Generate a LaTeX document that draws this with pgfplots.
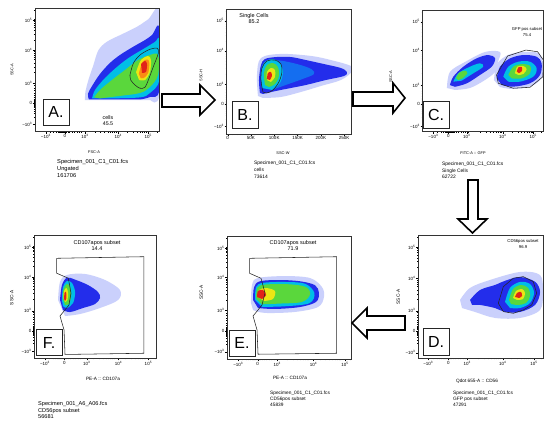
\documentclass[border=0pt]{standalone}
\usepackage{fontspec}
\setmainfont{Liberation Sans}
\usepackage{pgfplots}
\pgfplotsset{compat=1.18}
\newcommand{\fs}[1]{\fontsize{#1}{#1}\selectfont}
\definecolor{fhalo}{RGB}{202,208,252}
\definecolor{fblue}{RGB}{35,45,235}
\definecolor{fmid}{RGB}{20,110,240}
\definecolor{fcyan}{RGB}{0,190,230}
\definecolor{fgreen}{RGB}{90,215,60}
\definecolor{fyellow}{RGB}{235,230,20}
\definecolor{forange}{RGB}{250,140,20}
\definecolor{fred}{RGB}{225,35,25}
\newcommand{\blob}[2]{\addplot[fill=#1,draw=none,smooth,tension=0.55,forget plot] coordinates {#2};}
\newcommand{\gate}[2]{\addplot[draw=black!85,line width=0.55pt,#1,forget plot] coordinates {#2};}
\pgfplotsset{
 fc/.style={scale only axis, anchor=south west, xmin=0,xmax=100,ymin=0,ymax=100, clip=true, axis on top,
   axis line style={black!80,line width=0.45pt}, tick align=outside, tick pos=left,
   major tick length=2pt, minor tick length=1.1pt, tick style={black,line width=0.3pt},
   ticklabel style={font=\fs{4.5},inner sep=0.6pt},
   label style={font=\fs{3.9}}},
 lgx/.style={xtick={#1}, xticklabels={−10\textsuperscript{3},0,10\textsuperscript{3},10\textsuperscript{4},10\textsuperscript{5}},
   minor xtick={12,15,17,18.6,19.8,20.6,21.2,21.7,22.1,22.5,23.5,24,24.6,25.4,26.4,27.8,29.5,31.5,33.6,35.6,37.4,48,52.6,55.9,58.5,60.6,62.3,63.9,65.3,74.5,78.9,82,84.5,86.5,88.1,89.6,90.9,98.5}},
 lgy/.style={ytick={#1}, yticklabels={−10\textsuperscript{3},0,10\textsuperscript{3},10\textsuperscript{4},10\textsuperscript{5}},
   minor ytick={12,15,17,18.6,19.8,20.6,21.2,21.7,22.1,22.5,23.5,24,24.6,25.4,26.4,27.8,29.5,31.5,33.6,35.6,37.4,48,52.6,55.9,58.5,60.6,62.3,63.9,65.3,74.5,78.9,82,84.5,86.5,88.1,89.6,90.9,98.5}},
 xlab/.style 2 args={every axis x label/.append style={at={(axis description cs:#1,#2)},anchor=center}},
 ylab/.style 2 args={every axis y label/.append style={at={(axis description cs:#1,#2)},anchor=center}},
}
\begin{document}
\begin{tikzpicture}[x=1pt,y=1pt]
\fill[white] (0,0) rectangle (550,423);
\path[use as bounding box] (0,0) rectangle (550,423);

% ---------------- A ----------------
\begin{axis}[fc, at={(35pt,291.3pt)}, width=124.3pt, height=123.4pt,
  lgx={8.8,24.1,40.2,67.0,91.1}, lgy={6.2,23.0,39.2,66.2,90.5},
  xlabel={FSC-A}, ylabel={SSC-A}, xlab={0.475}{-0.162}, ylab={-0.185}{0.5}]
\blob{fhalo}{(40.2,25.5)(40.5,32)(43,42)(47,54)(51,66)(58,73)(70,79)(82,85)(91,91)(100,97)(100,30)(93,25.5)}
\blob{fblue}{(43.4,26.1)(42.6,30.6)(45.9,37.0)(52.3,46.8)(60.3,55.7)(68.4,62.2)(78.8,68.7)(88.5,74.3)(94.1,78.3)(100,84.0)(100,33.8)(92.5,28.1)(84.5,26.1)}
\blob{fcyan}{(45.9,27.0)(48.3,33.8)(56.3,43.5)(66.8,53.2)(76.4,60.5)(88.5,67.8)(96.5,72.7)(100,74.3)(100,41.9)(92.5,31.4)(84.5,27.8)(60.3,27.0)}
\blob{fgreen}{(47.5,27.8)(52.3,33.8)(61.9,41.9)(72.4,50)(82.9,58.1)(92.5,62.2)(99,62.2)(99,46)(92.5,36.2)(84.5,31.4)(68.4,29)(52.3,27.0)}
\blob{fyellow}{(81.3,48.3)(85.3,58.1)(91,61.3)(93.3,58.1)(92.5,48.3)(88.5,41.9)(83.7,41.9)}
\blob{forange}{(83.5,47)(86.5,56.5)(90.5,58.5)(92,55.5)(91,47.5)(87.5,43.5)(85,43.5)}
\blob{fred}{(85.3,54.9)(88.5,57.3)(90.1,54.9)(89.3,48.4)(86.1,47.6)}
\gate{smooth,tension=0.5}{(76.4,45.9)(79.1,55.4)(84.5,62.2)(92.5,66.8)(98.4,67.6)(99.2,63.5)(95.2,52.7)(91.2,41.9)(88.5,36.0)(84.5,35.2)(80.5,37.8)(77.0,41.9)(76.4,45.9)}
\end{axis}

% ---------------- B ----------------
\begin{axis}[fc, at={(226.7pt,289pt)}, width=125pt, height=124.7pt,
  xmin=-2100, xmax=266300, scaled x ticks=false,
  xtick={0,50000,100000,150000,200000,250000}, xticklabels={0,50K,100K,150K,200K,250K}, minor x tick num=4,
  lgy={6.4,24.0,40,66.7,90.8},
  xlabel={SSC-W}, ylabel={SSC-H}, xlab={0.45}{-0.152}, ylab={-0.205}{0.47}]
\blob{fhalo}{(65000,30.5)(62900,47.3)(71500,60.9)(114400,64.2)(178800,62.6)(221700,59.3)(264600,54.5)(266000,49.7)(243100,43.3)(200200,38.5)(157300,33.7)(114400,29.7)(75800,28.9)}
\blob{fblue}{(69300,32.9)(67200,43.3)(71500,55.3)(80000,60.1)(103700,61.7)(135800,61.7)(168000,59.3)(206700,56.1)(243100,52.9)(256000,49.7)(249600,46.5)(211000,43.3)(168000,39.3)(135800,36.9)(103700,34.5)(75800,32.1)}
\blob{fmid}{(75000,37)(72000,50)(80000,58)(110000,59)(150000,56)(180000,52)(185000,48)(160000,44)(130000,40)(100000,36)}
\blob{fcyan}{(73600,36.9)(71500,49.7)(80000,57.7)(97200,60.1)(112200,56.9)(118600,49.7)(112200,40.9)(95000,35.3)}
\blob{fgreen}{(80000,39.3)(77900,48.9)(84300,55.3)(97200,56.9)(107900,53.7)(110000,46.5)(101500,40.1)(88600,37.7)}
\blob{fyellow}{(84300,43.3)(84300,49.7)(92900,52.9)(101500,51.3)(101500,45.7)(92900,41.7)}
\blob{fred}{(84300,44.1)(86400,48.9)(92900,49.7)(95000,46.5)(90700,43.3)}
\gate{smooth,tension=0.55}{(75800,33.7)(71500,43.3)(73600,52.9)(84300,58.5)(101500,59.3)(114400,56.1)(116500,49.7)(110000,41.7)(97200,35.3)(84300,32.9)(75800,33.7)}
\end{axis}

% ---------------- C ----------------
\begin{axis}[fc, at={(422.7pt,291.3pt)}, width=120.6pt, height=121.7pt,
  lgx={8.8,21.3,36.5,66.3,91.7}, lgy={4.7,22.5,38.4,66.6,90.4},
  xlabel={FITC-A :: GFP}, ylabel={SSC-A}, xlab={0.417}{-0.175}, ylab={-0.265}{0.45}]
\blob{fhalo}{(20.1,35.9)(22.6,49.1)(35.1,57.3)(51.7,65.5)(64.1,65.5)(62.4,57.3)(60.0,49.1)(51.7,42.5)(39.2,35.9)(26.8,34.3)}
\blob{fhalo}{(59.1,42.5)(61.6,55.6)(70.7,63.0)(83.2,65.5)(95.7,64.7)(99.7,57.3)(99.7,45.8)(90.6,37.6)(74.9,35.1)(64.1,36.7)}
\blob{fblue}{(22.6,38.3)(25.4,45.2)(33.7,53.4)(44.8,60.3)(54.4,63.0)(60.0,60.3)(57.2,53.4)(47.5,46.6)(36.5,39.7)(26.8,36.9)}
\blob{fcyan}{(25.4,41.1)(29.5,48.0)(39.2,53.4)(47.5,56.2)(50.2,53.4)(42.0,48.0)(32.3,41.9)}
\blob{fgreen}{(27.6,43.9)(30.3,48.5)(35.1,50.1)(37.0,48.0)(33.2,43.9)(29.5,42.5)}
\blob{fblue}{(61.4,43.9)(64.1,53.4)(72.4,60.2)(83.4,63.0)(94.5,61.6)(98.6,56.2)(97.3,46.6)(89.0,39.8)(75.1,37.0)(65.5,38.4)}
\blob{fcyan}{(66.8,45.2)(71.0,53.4)(79.3,57.5)(89.0,57.5)(94.5,52.1)(91.7,45.2)(80.7,41.1)(71.0,41.1)}
\blob{fgreen}{(71.0,46.6)(75.1,53.4)(82.1,55.6)(89.0,54.0)(89.0,48.0)(82.1,43.8)(73.8,43.8)}
\blob{fyellow}{(76.5,48.0)(78.4,53.4)(83.4,54.0)(86.2,51.3)(83.4,47.4)(79.3,46.6)}
\blob{fred}{(78.0,49.3)(79.3,52.8)(82.1,53.1)(82.3,49.8)(79.8,48.2)}
\gate{}{(61.2,46.6)(70.4,62.2)(85.6,67.1)(95.3,65.7)(100,58.9)(99.7,45.2)(89.0,36.5)(75.1,35.7)(62.7,39.8)(61.2,46.6)}
\end{axis}

% ---------------- D ----------------
\begin{axis}[fc, at={(418.3pt,64.7pt)}, width=125pt, height=122.6pt,
  lgx={8,24,39.2,67.5,92.5}, lgy={4.6,22.3,38.8,65.2,90.5},
  label style={font=\fs{4.7}},
  xlabel={Qdot 655-A :: CD56}, ylabel={SSC-A}, xlab={0.47}{-0.185}, ylab={-0.16}{0.5}]
\blob{fhalo}{(33.4,47.6)(41.4,57.4)(57.4,63.9)(81.4,70.4)(97.4,67.9)(99.6,54.1)(97.4,39.4)(81.4,32.9)(61.4,32.9)(45.4,37.8)(35,41)}
\blob{fblue}{(41.4,47.6)(49.4,55.7)(61.4,59.8)(69.4,63.2)(81.4,66.3)(93.4,62.4)(97.4,54.1)(93.4,43.5)(81.4,37.8)(69.4,37.8)(61.4,41.0)(49.4,43.5)(43.0,43.5)}
\blob{fcyan}{(69.4,46.0)(73.4,57.4)(81.4,62.3)(89.4,60.6)(92.6,53.3)(89.4,45.1)(81.4,41.0)(73.4,41.0)}
\blob{fgreen}{(72.6,47.6)(75.8,56.5)(82.2,59.8)(87.8,57.4)(89.4,50.8)(86.2,45.1)(79.8,43.5)(74.2,44.3)}
\blob{fyellow}{(75.8,49.2)(78.2,54.9)(83,56.5)(85.4,53.3)(83.8,48.4)(79,47.6)}
\blob{fred}{(77.4,50.0)(79,53.3)(82.2,54.1)(83,50.8)(80.6,49.2)}
\gate{}{(64,44.9)(68,58.4)(76,65.3)(84,66.6)(92,62.5)(94.7,53)(90.7,43.5)(84,39.4)(76,36.7)(68,38.1)(64,44.9)}
\end{axis}

% ---------------- E ----------------
\begin{axis}[fc, at={(227.3pt,63.7pt)}, width=124.4pt, height=123.3pt,
  lgx={8.8,24.4,40.2,69.2,94.6}, lgy={6.2,23.2,39.5,66.5,90},
  label style={font=\fs{4.7}},
  xlabel={PE-A :: CD107a}, ylabel={SSC-A}, xlab={0.504}{-0.152}, ylab={-0.21}{0.54}]
\blob{fhalo}{(19.0,45.7)(19.9,60.3)(24.7,65.9)(46.4,67.5)(66.5,65.9)(76.1,58.6)(77.7,50.5)(72.9,42.4)(54.4,38.4)(30.3,37.6)(20.7,40.0)}
\blob{fblue}{(20.7,48.1)(21.5,58.4)(26.3,63.3)(42.4,64.3)(58.4,63.3)(70.5,60.1)(73.7,53.8)(71.3,46.5)(58.4,42.4)(38.3,40.8)(24.7,41.6)}
\blob{fcyan}{(22.3,48.1)(23.1,58.6)(28.7,62.0)(46.4,62.7)(62.5,61.3)(70.0,53.8)(66.0,45.5)(46.4,43.0)(27.9,42.5)}
\blob{fgreen}{(23.3,49.0)(24.0,57.8)(30.3,60.6)(50.4,60.8)(63.5,58.5)(66.5,52.5)(60.0,46.5)(42.4,45.2)(27.9,44.6)}
\blob{fyellow}{(24.7,50.5)(25.5,56.2)(31.2,57.8)(38.3,55.4)(36.7,48.9)(29.5,47.3)}
\blob{fred}{(23.9,50.5)(24.7,55.4)(28.7,56.2)(31.2,52.2)(27.9,48.9)}
\gate{}{(18.0,81.9)(87.9,83.2)(87.9,4.9)(24.7,4.1)(23.9,23.8)(20.7,35.1)(27.9,44.0)(30.3,53.8)(27.1,65.7)(18.0,69.7)(18.0,81.9)}
\end{axis}

% ---------------- F ----------------
\begin{axis}[fc, at={(34.3pt,64.7pt)}, width=122.4pt, height=123.3pt,
  lgx={8.7,24.5,42.8,68.7,93.2}, lgy={5.4,22.4,38.6,65.7,90},
  label style={font=\fs{4.7}},
  xlabel={PE-A :: CD107a}, ylabel={SSC-A}, xlab={0.561}{-0.168}, ylab={-0.185}{0.49}]
\blob{fhalo}{(19.4,47.3)(21.0,61.9)(26.7,67.6)(41.4,68.4)(57.8,63.5)(70.0,55.4)(68.5,47.3)(53.7,40.8)(37.3,35.9)(25.1,34.3)}
\blob{fblue}{(21.0,47.3)(22.6,59.4)(26.7,65.4)(33.3,63.8)(43.9,59.4)(52.0,53.8)(53.7,48.9)(49.6,44.0)(39.8,40.8)(29.2,37.5)(23.4,39.2)}
\blob{fcyan}{(22.6,47.3)(23.4,57.8)(26.7,62.7)(30.8,61.1)(33.3,53.8)(31.7,44.9)(26.7,40.8)(23.4,42.4)}
\blob{fgreen}{(23.4,48.1)(23.9,56.2)(26.7,60.3)(29.2,57.8)(30.0,50.5)(28.3,44.0)(25.1,43.2)}
\blob{fyellow}{(23.9,48.9)(24.3,54.6)(26.3,57.0)(27.6,53.0)(27.1,47.3)(25.1,45.7)}
\blob{fred}{(24.3,48.1)(24.7,53.0)(25.9,53.8)(26.3,48.9)(25.1,46.5)}
\gate{}{(18.3,81.1)(89.6,82.4)(89.6,4.1)(25.1,3.1)(24.3,23.0)(21.0,34.3)(28.3,43.2)(30.0,52.9)(27.8,64.9)(18.3,69.0)(18.3,81.1)}
\end{axis}

% ---------------- letter boxes ----------------
\tikzset{lbox/.style={draw=black!85, line width=0.6pt, fill=white, minimum width=26pt, minimum height=26.5pt, inner sep=0pt, font=\fs{16}}}
\node[lbox] at (56,310.5) {A.};
\node[lbox] at (245,308) {B.};
\node[lbox] at (436,308) {C.};
\node[lbox] at (436,81) {D.};
\node[lbox] at (242,79.5) {E.};
\node[lbox] at (49,80.5) {F.};

% ---------------- arrows ----------------
\tikzset{barrow/.style={draw=black, line width=1.6pt, fill=white, line join=miter}}
\draw[barrow] (162,329) -- (200,329) -- (200,338) -- (215,323) -- (200,308) -- (200,316) -- (162,316) -- cycle;
\draw[barrow] (353,331) -- (393,331) -- (393,340) -- (405,325) -- (393,310) -- (393,317) -- (353,317) -- cycle;
\draw[barrow] (468,243) -- (478,243) -- (478,204) -- (487,204) -- (472.5,190) -- (458,204) -- (468,204) -- cycle;
\draw[barrow] (405,107) -- (367,107) -- (367,115) -- (352,100) -- (367,85) -- (367,93) -- (405,93) -- cycle;

% ---------------- gate labels ----------------
\node[font=\fs{5.3},inner sep=0] at (108,305) {cells};
\node[font=\fs{5.3},inner sep=0] at (108,299) {45.5};
\node[font=\fs{5.5},inner sep=0] at (254,407) {Single Cells};
\node[font=\fs{5.5},inner sep=0] at (254,401) {85.2};
\node[font=\fs{4.2},inner sep=0] at (527,394) {GFP pos subset};
\node[font=\fs{4.2},inner sep=0] at (527,388) {75.4};
\node[font=\fs{4.2},inner sep=0] at (523,182) {CD56pos subset};
\node[font=\fs{4.2},inner sep=0] at (523,176) {96.9};
\node[font=\fs{5.5},inner sep=0] at (293,180) {CD107apos subset};
\node[font=\fs{5.5},inner sep=0] at (293,174) {71.9};
\node[font=\fs{5.5},inner sep=0] at (97,180) {CD107apos subset};
\node[font=\fs{5.5},inner sep=0] at (97,174) {14.4};

% ---------------- sample info ----------------
\tikzset{info/.style={anchor=base west, inner sep=0}}
\node[info,font=\fs{5.7}] at (57,259) {Specimen\_001\_C1\_C01.fcs};
\node[info,font=\fs{5.7}] at (57,252) {Ungated};
\node[info,font=\fs{5.7}] at (57,245) {161706};
\node[info,font=\fs{4.9}] at (254,258.5) {Specimen\_001\_C1\_C01.fcs};
\node[info,font=\fs{4.9}] at (254,251.5) {cells};
\node[info,font=\fs{4.9}] at (254,244.5) {73614};
\node[info,font=\fs{4.9}] at (442,257) {Specimen\_001\_C1\_C01.fcs};
\node[info,font=\fs{4.9}] at (442,250) {Single Cells};
\node[info,font=\fs{4.9}] at (442,244) {62722};
\node[info,font=\fs{4.8}] at (453,28.5) {Specimen\_001\_C1\_C01.fcs};
\node[info,font=\fs{4.8}] at (453,22.5) {GFP pos subset};
\node[info,font=\fs{4.8}] at (453,16.5) {47291};
\node[info,font=\fs{4.8}] at (270,28.5) {Specimen\_001\_C1\_C01.fcs};
\node[info,font=\fs{4.8}] at (270,22.5) {CD56pos subset};
\node[info,font=\fs{4.8}] at (270,16.5) {45839};
\node[info,font=\fs{5.6}] at (38,17.5) {Specimen\_001\_A6\_A06.fcs};
\node[info,font=\fs{5.6}] at (38,10.5) {CD56pos subset};
\node[info,font=\fs{5.6}] at (38,4.5) {56681};
\end{tikzpicture}
\end{document}
